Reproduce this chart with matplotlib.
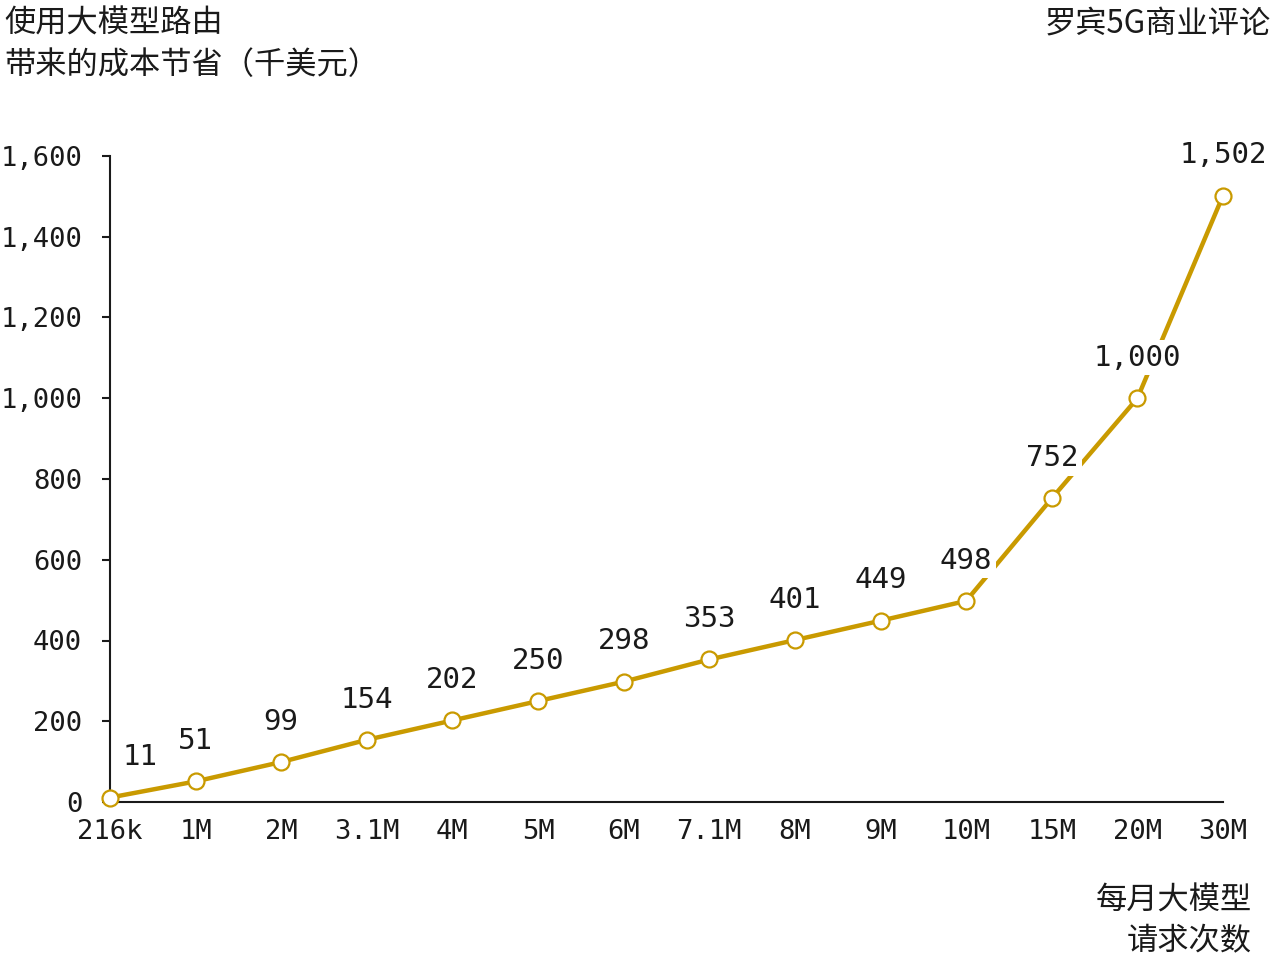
import matplotlib.pyplot as plt

plt.rcParams['font.family'] = ['Noto Sans CJK SC', 'DejaVu Sans']

# data
requests = ['216k', '1M', '2M', '3.1M', '4M', '5M', '6M', '7.1M', '8M', '9M', '10M', '15M', '20M', '30M']
savings = [11, 51, 99, 154, 202, 250, 298, 353, 401, 449, 498, 752, 1000, 1502]
yticks = [0, 200, 400, 600, 800, 1000, 1200, 1400, 1600]

gold = '#C99A00'
dark = '#1a1a1a'
num_font = ['DejaVu Sans Mono', 'Noto Sans CJK SC']

fig = plt.figure(figsize=(12.74, 9.58), dpi=100)
ax = fig.add_axes([110/1274, 1-802/958, (1223-110)/1274, (802-156)/958])

x = list(range(len(requests)))
ax.plot(x, savings, color=gold, lw=3.2, marker='o', markersize=11.5,
        markerfacecolor='white', markeredgecolor=gold, markeredgewidth=1.6,
        clip_on=False, zorder=3)

# value labels with white box over the line
for i, v in enumerate(savings):
    dx = 22 if i == 0 else 0
    ax.annotate(f'{v:,}', (i, v), xytext=(dx, 29), textcoords='offset points',
                ha='center', va='center', fontsize=21, color=dark, family=num_font,
                bbox=dict(boxstyle='square,pad=0.12', fc='white', ec='none'), zorder=4)

ax.set_xlim(0, len(requests) - 1)
ax.set_ylim(0, 1600)
ax.set_xticks(x)
ax.set_xticklabels(requests, family=num_font, fontsize=19.5, color=dark)
ax.set_yticks(yticks)
ax.set_yticklabels([f'{t:,}' for t in yticks], family=num_font, fontsize=19.5, color=dark)
ax.tick_params(axis='x', length=0, pad=12)
ax.tick_params(axis='y', length=6, width=1.5, color=dark, pad=14)

for s in ['top', 'right']:
    ax.spines[s].set_visible(False)
for s in ['left', 'bottom']:
    ax.spines[s].set_color(dark)
    ax.spines[s].set_linewidth(1.5)

fig.text(4/1274, 1-8/958, '使用大模型路由\n带来的成本节省（千美元）', ha='left', va='top',
         fontsize=22.5, color=dark, linespacing=1.35)
fig.text(1271/1274, 1-8/958, '罗宾5G商业评论', ha='right', va='top',
         fontsize=22.5, color=dark)
fig.text(1252/1274, 1-885/958, '每月大模型\n请求次数', ha='right', va='top',
         fontsize=22.5, color=dark, linespacing=1.35, multialignment='right')

fig.savefig('out.png', dpi=100)
